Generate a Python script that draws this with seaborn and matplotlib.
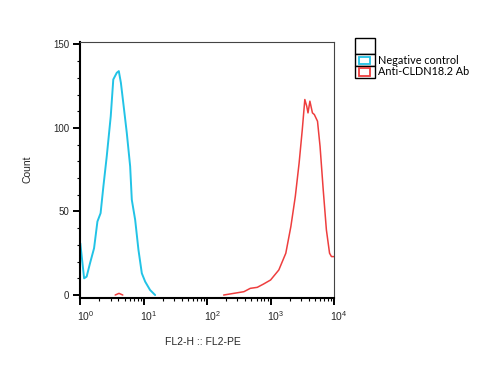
import numpy as np
import pandas as pd
import matplotlib
matplotlib.use("Agg")
import matplotlib.pyplot as plt
import matplotlib.transforms as mtransforms
import seaborn as sns
from matplotlib.patches import Rectangle
from matplotlib.ticker import LogLocator, FixedLocator, NullFormatter

# ---- data (decade position log10(FL2-PE), count) ----
neg_log = [0.0, 0.06, 0.10, 0.153, 0.217, 0.27, 0.32, 0.364, 0.417, 0.48, 0.52, 0.575,
           0.607, 0.64, 0.69, 0.733, 0.786, 0.812, 0.865, 0.917, 0.97, 1.023, 1.10, 1.18]
neg_cnt = [31, 10, 11, 19, 28, 44, 49, 65, 83, 107, 129, 133,
           134, 127, 111, 97, 77, 57, 45, 27, 13, 8, 3, 0]

ab_log = [0.55, 0.61, 0.67, 2.26, 2.42, 2.58, 2.68, 2.79, 2.89, 3.0, 3.13, 3.24, 3.32,
          3.39, 3.45, 3.50, 3.54, 3.57, 3.59, 3.62, 3.66, 3.69, 3.74, 3.78, 3.83,
          3.88, 3.93, 3.96, 4.0]
ab_cnt = [0, 1, 0, 0, 1, 2, 4, 4.6, 6.6, 9, 15, 25, 41,
          59, 79, 99, 117, 113, 109, 116, 109, 108, 104, 89, 63,
          39, 25, 23, 23]
ab_seg = [0, 0, 0] + [1] * 26

series_names = ["Negative control", "Anti-CLDN18.2 Ab"]
colors = ["#22C3E6", "#EE3E3E"]
x_ticks = [1, 10, 100, 1000, 10000]
x_tick_labels = [r"$10^{0}$", r"$10^{1}$", r"$10^{2}$", r"$10^{3}$", r"$10^{4}$"]
y_ticks = [0, 50, 100, 150]

W, H = 498, 373
sns.set_style("white")
plt.rcParams["font.family"] = ["Liberation Sans", "DejaVu Sans"]
plt.rcParams["mathtext.fontset"] = "custom"
plt.rcParams["mathtext.rm"] = "Liberation Sans"
plt.rcParams["mathtext.it"] = "Liberation Sans"
plt.rcParams["mathtext.bf"] = "Liberation Sans:bold"

fig = plt.figure(figsize=(W / 100, H / 100), dpi=100)
ax = fig.add_axes([80.3 / W, 1 - 297.7 / H, (334 - 80.3) / W, (297.7 - 41.7) / H])

neg_df = pd.DataFrame({"x": 10 ** np.array(neg_log), "y": neg_cnt})
ab_df = pd.DataFrame({"x": 10 ** np.array(ab_log), "y": ab_cnt, "seg": ab_seg})
sns.lineplot(data=ab_df, x="x", y="y", units="seg", estimator=None, ax=ax,
             color=colors[1], lw=1.1, sort=False)
sns.lineplot(data=neg_df, x="x", y="y", ax=ax, color=colors[0], lw=1.4, sort=False)

ax.set_xscale("log")
ax.set_xlim(1, 10000)
ax.set_ylim(-1.6, 151.6)
ax.set_xticks(x_ticks)
ax.set_xticklabels(x_tick_labels)
ax.xaxis.set_minor_locator(LogLocator(base=10, subs=np.arange(2, 10)))
ax.xaxis.set_minor_formatter(NullFormatter())
ax.set_yticks(y_ticks)
ax.yaxis.set_minor_locator(FixedLocator(np.arange(0, 151, 10)))

ax.tick_params(axis="both", which="major", direction="out", length=5, width=1.4,
               labelsize=7, color="black", pad=3)
ax.tick_params(axis="both", which="minor", direction="out", length=2.5, width=0.8,
               color="black")
ax.tick_params(axis="y", which="both", left=True)
ax.tick_params(axis="x", which="both", bottom=True)
shift = mtransforms.ScaledTranslation(5 / 100, 0, fig.dpi_scale_trans)
for lab in ax.get_xticklabels():
    lab.set_fontsize(7.5)
    lab.set_transform(lab.get_transform() + shift)

for s in ["left", "bottom"]:
    ax.spines[s].set_color("black")
    ax.spines[s].set_linewidth(1.5)
for s in ["top", "right"]:
    ax.spines[s].set_color("#444444")
    ax.spines[s].set_linewidth(0.8)

ax.set_xlabel("FL2-H :: FL2-PE", fontsize=7.5)
ax.set_ylabel("Count", fontsize=7.5)
ax.xaxis.set_label_coords(0.484, -0.155)
ax.yaxis.set_label_coords(-0.19, 0.5)


def fx(px):
    return px / W


def fy(py):
    return 1 - py / H


# legend box
lx0, lx1 = 354.7, 374.7
rows = [(37.7, 54.3), (54.3, 66.0), (66.0, 77.7)]
for (t, b) in rows:
    fig.add_artist(Rectangle((fx(lx0), fy(b)), fx(lx1) - fx(lx0), fy(t) - fy(b),
                             transform=fig.transFigure, facecolor="white",
                             edgecolor="black", lw=1.0))
for (t, b), c, name in zip(rows[1:], colors, series_names):
    fig.add_artist(Rectangle((fx(359.0), fy(b - 2.2)), fx(370.2) - fx(359.0),
                             fy(t + 2.2) - fy(b - 2.2), transform=fig.transFigure,
                             facecolor="white", edgecolor=c, lw=1.3))
    fig.text(fx(377.5), fy((t + b) / 2), name, fontsize=7.8, va="center", ha="left",
             family=["Lato", "DejaVu Sans"], color="black")

fig.savefig("out.png", dpi=100)
